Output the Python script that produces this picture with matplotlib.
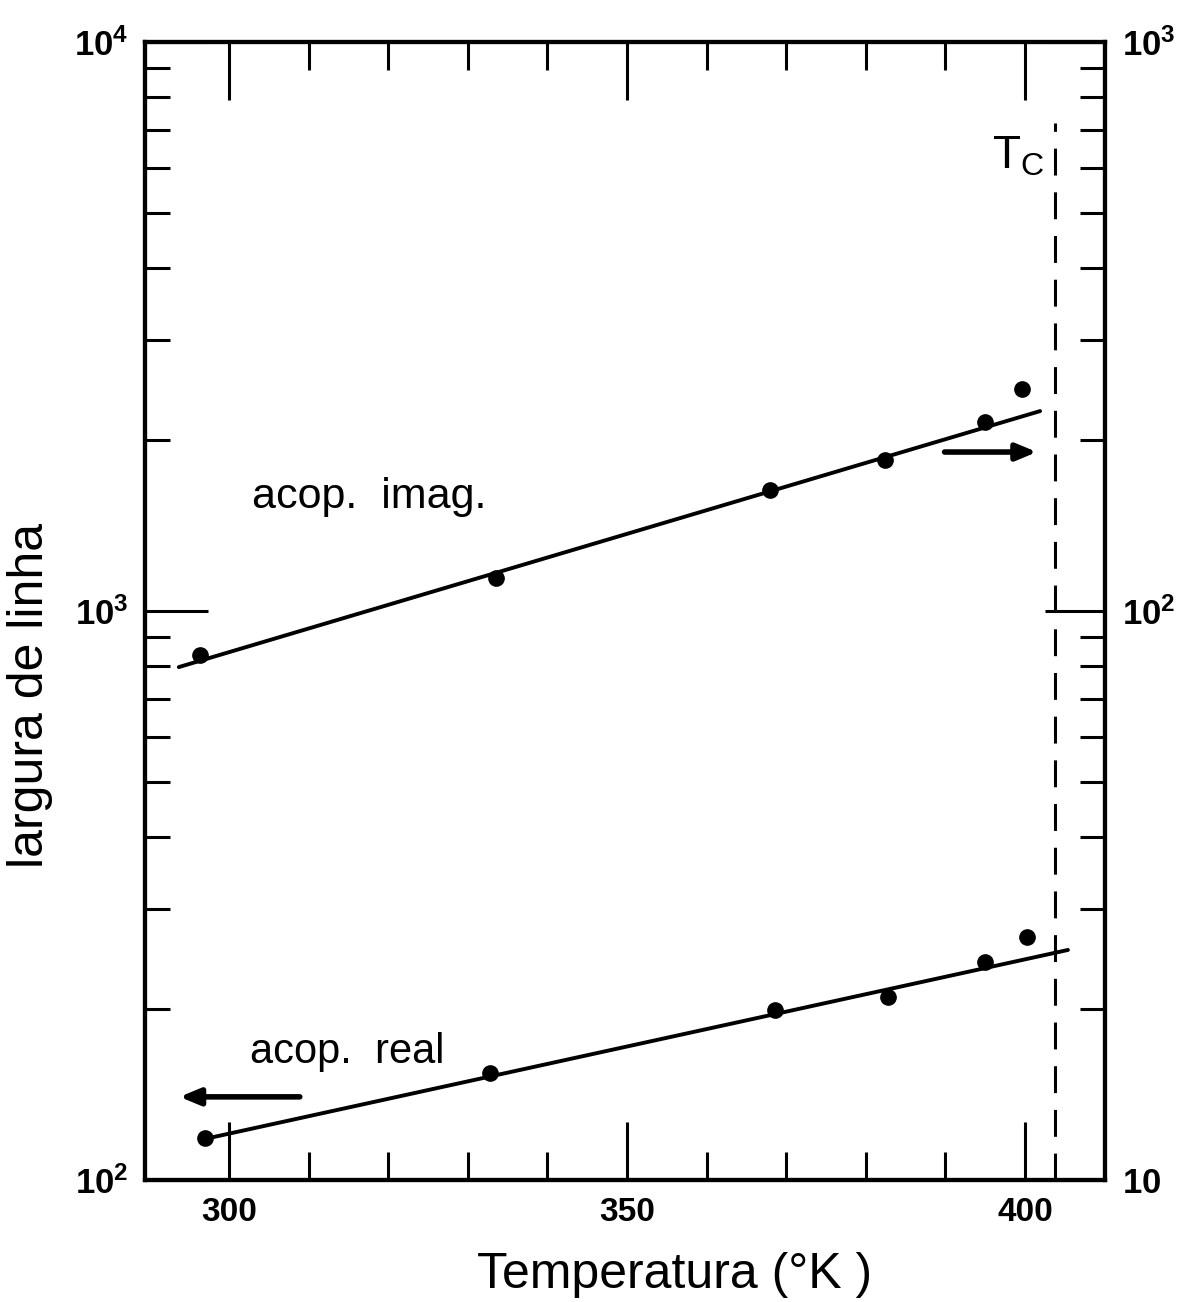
import matplotlib
matplotlib.use("Agg")
import matplotlib.pyplot as plt
from matplotlib.ticker import FixedLocator, NullFormatter, LogLocator

plt.rcParams['font.family'] = ['Liberation Sans', 'DejaVu Sans']
plt.rcParams['mathtext.fontset'] = 'custom'
plt.rcParams['mathtext.rm'] = 'Liberation Sans'
plt.rcParams['mathtext.it'] = 'Liberation Sans'
plt.rcParams['mathtext.bf'] = 'Liberation Sans:bold'

# ---- data ----
T_real = [297.0, 332.8, 368.6, 382.8, 395.0, 400.3]
width_real = [118.5, 154, 199, 210, 242, 267]          # left axis
fit_real_T = [296.4, 405.4]
fit_real_w = [117.6, 253.7]

T_imag = [296.4, 333.5, 368.0, 382.4, 395.0, 399.6]
width_imag = [83.7, 114.3, 163, 184, 215, 246]         # right axis
fit_imag_T = [293.7, 401.9]
fit_imag_w = [79.7, 224.6]

T_c = 403.8

x_major = [300, 350, 400]
x_major_labels = ['300', '350', '400']
x_minor = [310, 320, 330, 340, 360, 370, 380, 390]

left_ticks = [1e2, 1e3, 1e4]
left_labels = [r'$\mathbf{10^{2}}$', r'$\mathbf{10^{3}}$', r'$\mathbf{10^{4}}$']
right_ticks = [1e1, 1e2, 1e3]
right_labels = [r'$\mathbf{10}$', r'$\mathbf{10^{2}}$', r'$\mathbf{10^{3}}$']

fig = plt.figure(figsize=(12, 13.02), dpi=100)
ax = fig.add_axes([0.1208, 0.0937, 0.8, 0.874])
ax2 = ax.twinx()

for a in (ax, ax2):
    for s in a.spines.values():
        s.set_linewidth(3.0)

ax.set_xlim(289.45, 410.05)
ax.set_yscale('log')
ax.set_ylim(1e2, 1e4)
ax2.set_yscale('log')
ax2.set_ylim(1e1, 1e3)

# x ticks
ax.xaxis.set_major_locator(FixedLocator(x_major))
ax.set_xticklabels(x_major_labels, fontsize=24, fontweight='bold')
ax.xaxis.set_minor_locator(FixedLocator(x_minor))
ax.tick_params(axis='x', which='major', direction='in', length=42, width=2.2,
               top=True, bottom=True, pad=12)
ax.tick_params(axis='x', which='minor', direction='in', length=20, width=2.2,
               top=True, bottom=True)

# left y ticks
ax.yaxis.set_major_locator(FixedLocator(left_ticks))
ax.set_yticklabels(left_labels, fontsize=25)
ax.yaxis.set_minor_locator(LogLocator(base=10, subs=range(2, 10)))
ax.yaxis.set_minor_formatter(NullFormatter())
ax.tick_params(axis='y', which='major', direction='in', length=45, width=2.2,
               left=True, right=False, pad=12)
ax.tick_params(axis='y', which='minor', direction='in', length=18, width=2.2,
               left=True, right=False)

# right y ticks
ax2.yaxis.set_major_locator(FixedLocator(right_ticks))
ax2.set_yticklabels(right_labels, fontsize=25)
ax2.yaxis.set_minor_locator(LogLocator(base=10, subs=range(2, 10)))
ax2.yaxis.set_minor_formatter(NullFormatter())
ax2.tick_params(axis='y', which='major', direction='in', length=43, width=2.2,
                right=True, left=False, pad=12)
ax2.tick_params(axis='y', which='minor', direction='in', length=18, width=2.2,
                right=True, left=False)

# data: real coupling (left axis)
ax.plot(fit_real_T, fit_real_w, color='black', lw=2.8, solid_capstyle='round')
ax.plot(T_real, width_real, 'o', color='black', ms=11)

# data: imaginary coupling (right axis)
ax2.plot(fit_imag_T, fit_imag_w, color='black', lw=2.8, solid_capstyle='round')
ax2.plot(T_imag, width_imag, 'o', color='black', ms=11)

# Tc dashed line
ax.axvline(T_c, ymin=0, ymax=0.929, color='black', lw=2.2, dashes=(8.8, 5.5))
ax.text(395.8, 6300, r'$\mathrm{T_C}$', fontsize=33, ha='left', va='center')

# arrows
ax2.annotate('', xy=(401.5, 190.3), xytext=(389.9, 190.3),
             arrowprops=dict(arrowstyle='-|>,head_length=1.2,head_width=0.5',
                             color='black', lw=4.0, shrinkA=0, shrinkB=0))
ax.annotate('', xy=(293.8, 140), xytext=(308.9, 140),
            arrowprops=dict(arrowstyle='-|>,head_length=1.2,head_width=0.5',
                            color='black', lw=4.0, shrinkA=0, shrinkB=0))

ax.text(302.9, 1586, 'acop.  imag.', fontsize=31, ha='left', va='center')
ax.text(302.6, 168, 'acop.  real', fontsize=30, ha='left', va='center')

fig.text(0.5625, 0.021, "Temperatura (°K )", fontsize=36, ha='center', va='center')
fig.text(0.025, 0.466, "largura de linha", fontsize=36, ha='center', va='center',
         rotation=90)

fig.savefig('out.png', dpi=100)
